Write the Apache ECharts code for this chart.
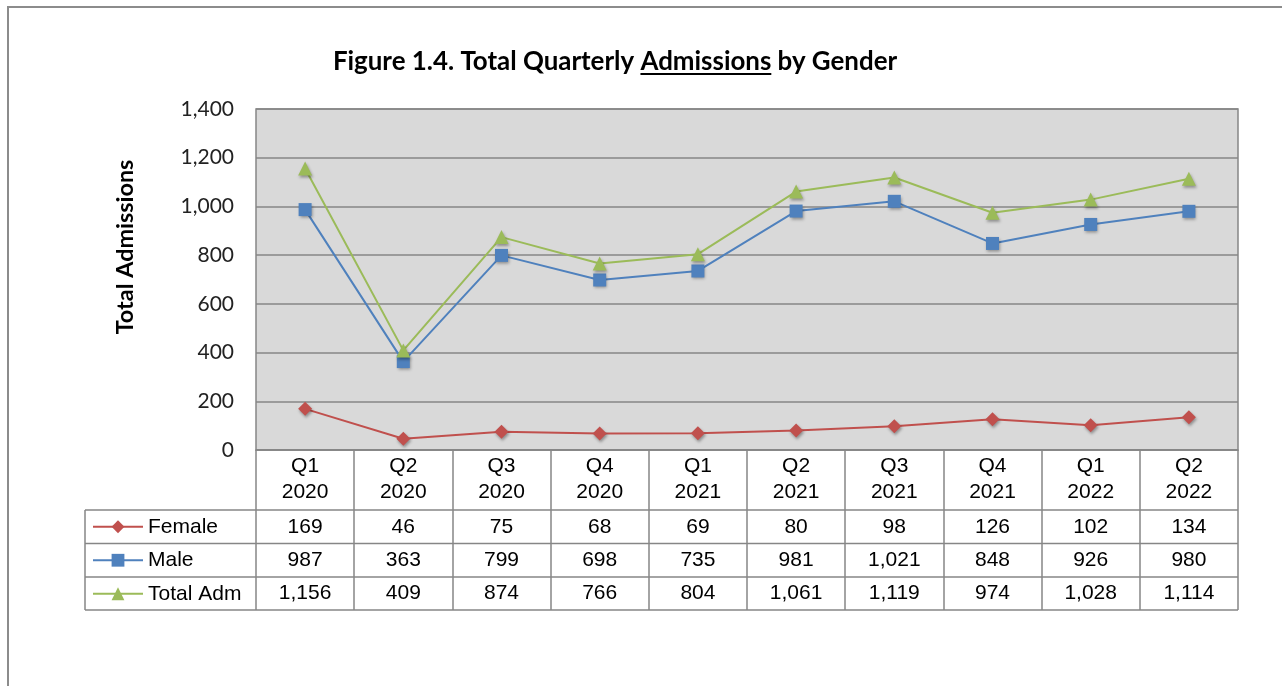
<!DOCTYPE html>
<html>
<head>
<meta charset="utf-8">
<title>Figure 1.4</title>
<script src="https://cdn.jsdelivr.net/npm/echarts@6/dist/echarts.min.js"></script>
<style>
  html, body { margin: 0; padding: 0; background: #fff; }
  #main { width: 1282px; height: 686px; }
</style>
</head>
<body>
<div id="main"></div>
<script>
// data
var quarters = ['Q1\n2020', 'Q2\n2020', 'Q3\n2020', 'Q4\n2020', 'Q1\n2021', 'Q2\n2021', 'Q3\n2021', 'Q4\n2021', 'Q1\n2022', 'Q2\n2022'];
var female = [169, 46, 75, 68, 69, 80, 98, 126, 102, 134];
var male = [987, 363, 799, 698, 735, 981, 1021, 848, 926, 980];
var totalAdm = [1156, 409, 874, 766, 804, 1061, 1119, 974, 1028, 1114];
var seriesNames = ['Female', 'Male', 'Total Adm'];
var yTicks = { min: 0, max: 1400, step: 200 };

var GRID = { left: 256, top: 109, right: 1238, bottom: 450 };
var ROW_LINES = [510, 543.5, 577, 610];
var GRAY = '#868686';

// measure text so the title fits its original width
var cv = document.createElement('canvas').getContext('2d');
function textW(font, s) { cv.font = font; return cv.measureText(s).width; }
function fitSize(weight, family, s, target) {
  var w = textW(weight + ' 100px ' + family, s);
  return Math.round(100 * target / w * 10) / 10;
}

var titleFam = 'Lato';
var titleStr = 'Figure 1.4. Total Quarterly Admissions by Gender';
var titleSize = fitSize('bold', titleFam, titleStr, 564);
var titleFont = 'bold ' + titleSize + 'px ' + titleFam;
var titleW = textW(titleFont, titleStr);
var titleX0 = 615 - titleW / 2;
var preW = textW(titleFont, 'Figure 1.4. Total Quarterly ');
var admW = textW(titleFont, 'Admissions');

var yNameStr = 'Total Admissions';
var yNameSize = fitSize('bold', titleFam, yNameStr, 175);

function fmt(v) { return v.toLocaleString('en-US'); }
var rowCenters = [];
for (var i = 0; i < 3; i++) rowCenters.push((ROW_LINES[i] + ROW_LINES[i + 1]) / 2);

var myChart = echarts.init(document.getElementById('main'));

var valueAxis = function (vals, center) {
  return {
    type: 'category',
    gridIndex: 0,
    position: 'bottom',
    offset: center - 11 - GRID.bottom,
    data: vals.map(fmt),
    axisLine: { show: false },
    axisTick: { show: false },
    splitLine: { show: false },
    axisLabel: {
      interval: 0, margin: 0, lineHeight: 22,
      fontSize: 21, color: '#000', fontFamily: 'Liberation Sans'
    }
  };
};

var gfx = [
  // outer chart border
  { type: 'rect', shape: { x: 8, y: 7, width: 1320, height: 720 },
    style: { fill: 'none', stroke: '#8c8c8c', lineWidth: 2 }, silent: true },
  { type: 'text', x: titleX0, y: 62,
    style: { text: titleStr, font: titleFont, fill: '#000', verticalAlign: 'middle' } },
  { type: 'line', shape: { x1: titleX0 + preW, y1: 74, x2: titleX0 + preW + admW, y2: 74 },
    style: { stroke: '#000', lineWidth: 2 } },
  { type: 'text', x: 125, y: 247, rotation: Math.PI / 2,
    style: { text: yNameStr, font: 'bold ' + yNameSize + 'px ' + titleFam, fill: '#000',
      align: 'center', verticalAlign: 'middle' } },
  // data table left column border
  { type: 'line', shape: { x1: 85, y1: ROW_LINES[0], x2: 85, y2: ROW_LINES[3] },
    style: { stroke: GRAY, lineWidth: 1.5 } }
];
ROW_LINES.forEach(function (y) {
  gfx.push({ type: 'line', shape: { x1: 85, y1: y, x2: GRID.right, y2: y },
    style: { stroke: GRAY, lineWidth: 1.5 } });
});

var shadow = { shadowBlur: 3, shadowOffsetX: 1, shadowOffsetY: 2, shadowColor: 'rgba(0,0,0,0.35)' };
function mkSeries(name, data, color, symbol, size) {
  return {
    name: name, type: 'line', data: data,
    symbol: symbol, symbolSize: size,
    lineStyle: { color: color, width: 2 },
    itemStyle: Object.assign({ color: color }, shadow),
    emphasis: { disabled: true }
  };
}

var option = {
  animation: false,
  backgroundColor: '#fff',
  grid: {
    left: GRID.left, top: GRID.top, right: 1282 - GRID.right, bottom: 686 - GRID.bottom,
    show: true, backgroundColor: '#d9d9d9', borderColor: GRAY, borderWidth: 1.5
  },
  legend: {
    orient: 'vertical', left: 92, top: rowCenters[0] - 10.5, padding: 0,
    itemWidth: 50, itemHeight: 16, itemGap: 12.5,
    data: seriesNames,
    textStyle: { fontSize: 21, color: '#000', fontFamily: 'Liberation Sans' },
    selectedMode: false
  },
  xAxis: [
    {
      type: 'category',
      data: quarters,
      axisLine: { lineStyle: { color: GRAY, width: 1.5 } },
      axisTick: { show: true, interval: 0, length: ROW_LINES[3] - GRID.bottom, lineStyle: { color: GRAY, width: 1.5 } },
      axisLabel: { interval: 0, margin: 3, lineHeight: 26, fontSize: 21, color: '#000', fontFamily: 'Liberation Sans' }
    },
    valueAxis(female, rowCenters[0]),
    valueAxis(male, rowCenters[1]),
    valueAxis(totalAdm, rowCenters[2])
  ],
  yAxis: {
    type: 'value', min: yTicks.min, max: yTicks.max, interval: yTicks.step,
    axisLine: { show: false }, axisTick: { show: false },
    splitLine: { lineStyle: { color: GRAY, width: 1.5 } },
    axisLabel: { margin: 22, fontSize: 21, color: '#222', fontFamily: 'Lato',
      formatter: function (v) { return fmt(v); } }
  },
  graphic: gfx,
  series: [
    mkSeries('Female', female, '#C0504D', 'diamond', 14),
    mkSeries('Male', male, '#4F81BD', 'rect', 13),
    mkSeries('Total Adm', totalAdm, '#9BBB59', 'triangle', 14)
  ]
};
myChart.setOption(option);
</script>
</body>
</html>
